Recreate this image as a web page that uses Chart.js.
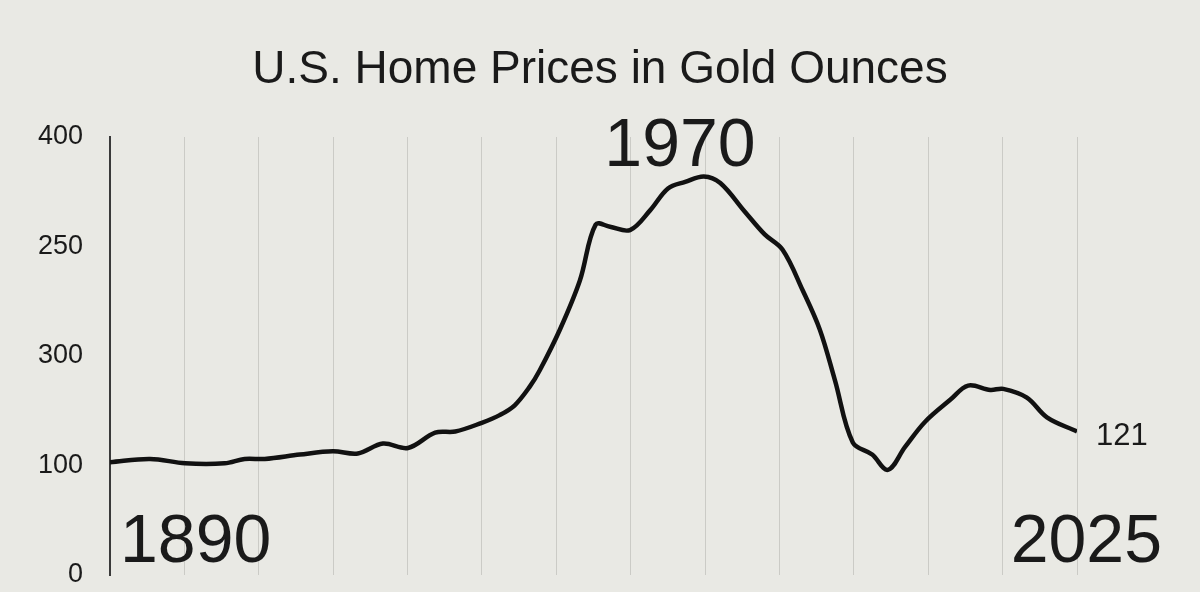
<!DOCTYPE html>
<html>
<head>
<meta charset="utf-8">
<script src="https://cdn.jsdelivr.net/npm/chart.js@4.4.1/dist/chart.umd.min.js"></script>
<style>
	html, body { margin: 0; padding: 0; background: #e9e9e4; }
	#wrap { width: 1200px; height: 592px; }
</style>
</head>
<body>
<div id="wrap"><canvas id="homeGold"></canvas></div>
<script>
// years and home price in ounces of gold
var years = [1890, 1895.6, 1900.5, 1906, 1908.8, 1911.6, 1916.5, 1921.1, 1924.6, 1928.1, 1931.6, 1935.4,
	1938.2, 1941.9, 1944.4, 1946.5, 1948.6, 1950, 1952.8, 1955.6, 1957.8, 1959.8, 1962.6, 1965.4,
	1967.9, 1970.3, 1972.9, 1975.2, 1978.6, 1981.4, 1983.9, 1986.7, 1989.1, 1991.2, 1993.7, 1996.4,
	1998.6, 2001, 2003.8, 2007.3, 2009.8, 2012.9, 2014.7, 2018, 2020.8, 2025];
var goldOunces = [103, 106, 102, 102, 106, 106, 110, 113, 111, 120, 116, 130,
	131, 139, 146, 155, 172, 187, 224, 269, 320, 318, 315, 333,
	353, 359, 364, 358, 332, 311, 297, 260, 224, 178, 121, 110,
	96, 117, 140, 160, 173, 169, 170, 162, 144, 131];
var yTickLabels = ['0', '100', '300', '250', '400'];
var chartTitle = 'U.S. Home Prices in Gold Ounces';
var firstYear = '1890', peakYear = '1970', lastYear = '2025', lastValue = '121';

var FONT = '"Liberation Sans", Arial, sans-serif';

var backgroundPlugin = {
	id: 'paper',
	beforeDraw: function(chart){
		var ctx = chart.ctx;
		ctx.save();
		ctx.fillStyle = '#e9e9e4';
		ctx.fillRect(0, 0, chart.width, chart.height);
		ctx.restore();
	}
};

var labelsPlugin = {
	id: 'bigLabels',
	afterDraw: function(chart){
		var ctx = chart.ctx;
		ctx.save();
		ctx.fillStyle = '#1a1a1a';
		ctx.textBaseline = 'alphabetic';

		ctx.textAlign = 'center';
		ctx.font = '46px ' + FONT;
		ctx.fillText(chartTitle, 600, 83);

		ctx.font = '68px ' + FONT;
		ctx.fillText(peakYear, 680, 166);

		ctx.textAlign = 'left';
		ctx.fillText(firstYear, 120, 562);

		ctx.textAlign = 'right';
		ctx.fillText(lastYear, 1162, 562);

		ctx.textAlign = 'left';
		ctx.font = '31px ' + FONT;
		ctx.fillText(lastValue, 1096, 445);
		ctx.restore();
	}
};

var ctx = document.getElementById('homeGold').getContext('2d');
var homeChart = new Chart(ctx, {
	type: 'line',
	data: {
		datasets: [{
			data: years.map(function(y, i){ return {x: y, y: goldOunces[i]}; }),
			borderColor: '#111111',
			borderWidth: 4.5,
			pointRadius: 0,
			tension: 0.35,
			fill: false
		}]
	},
	options: {
		responsive: true,
		maintainAspectRatio: false,
		animation: false,
		layout: { padding: { top: 137, right: 123, bottom: 0, left: 0 } },
		plugins: { legend: { display: false }, tooltip: { enabled: false } },
		scales: {
			x: {
				type: 'linear',
				min: 1890,
				max: 2025,
				afterBuildTicks: function(scale){
					var t = [];
					for (var i = 0; i <= 13; i++) t.push({ value: scale.min + (scale.max - scale.min) * i / 13 });
					scale.ticks = t;
				},
				afterFit: function(scale){ scale.height = 17; },
				ticks: { display: false },
				grid: { color: '#cbcbc6', lineWidth: 1, drawTicks: false },
				border: { display: false }
			},
			y: {
				min: 0,
				max: 400,
				afterFit: function(scale){
					scale.width = 110;
					// keep the tick padding from eating vertical space
					scale.paddingTop = 14;
					scale.paddingBottom = 14;
				},
				ticks: {
					stepSize: 100,
					padding: 27,
					color: '#1a1a1a',
					font: { family: FONT, size: 27 },
					callback: function(value, index){ return yTickLabels[index]; }
				},
				grid: { display: false, drawTicks: false },
				border: { display: true, color: '#3a3a3a', width: 2 }
			}
		}
	},
	plugins: [backgroundPlugin, labelsPlugin]
});
</script>
</body>
</html>
